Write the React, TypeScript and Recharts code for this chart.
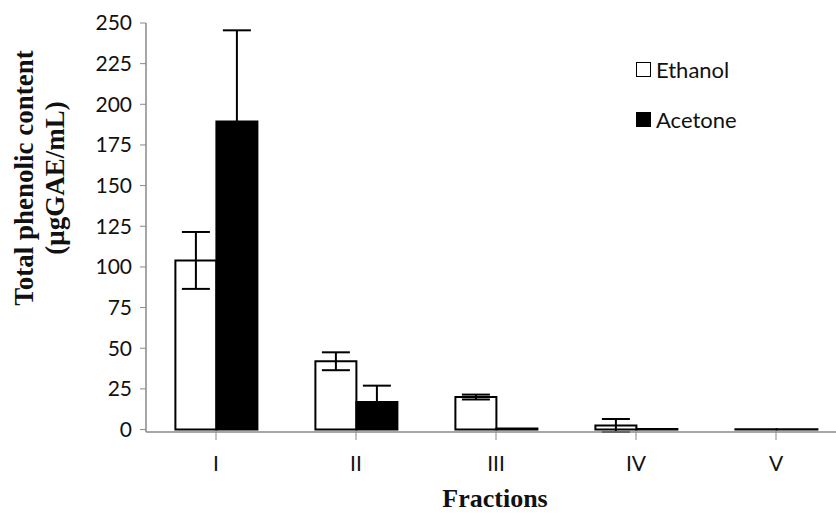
import { Bar, BarChart, ErrorBar, XAxis, YAxis } from 'recharts'

const fractions = ['I', 'II', 'III', 'IV', 'V']
const ethanol = [104, 42, 20, 2.5, 0.2]
const ethanolErr = [17.5, 5.5, 1.5, 4, 0]
const acetone = [189.5, 17, 0.6, 0.3, 0.2]
const acetoneErr = [56, 10, 0, 0, 0]
const yTicks = [0, 25, 50, 75, 100, 125, 150, 175, 200, 225, 250]

const data = fractions.map((f, i) => ({
  fraction: f,
  ethanol: ethanol[i],
  ethanolErr: ethanolErr[i],
  acetone: acetone[i],
  acetoneErr: acetoneErr[i],
}))

const sans = 'Lato, "Open Sans", sans-serif'
const serif = '"Liberation Serif", "Times New Roman", serif'
const tickFont = { fontFamily: sans, fontSize: 21, fill: '#111' }

function YLabel() {
  return (
    <text
      transform="translate(33, 178) rotate(-90)"
      textAnchor="middle"
      fontFamily={serif}
      fontWeight="bold"
      fontSize={27}
      fill="#111"
    >
      <tspan x={0} dy={0}>Total phenolic content</tspan>
      <tspan x={0} dy={31}>(μgGAE/mL)</tspan>
    </text>
  )
}

function LegendBox() {
  const items = [
    { name: 'Ethanol', fill: '#fff' },
    { name: 'Acetone', fill: '#000' },
  ]
  return (
    <div
      style={{
        position: 'absolute',
        left: 636,
        top: 55,
        fontFamily: sans,
        fontSize: 22,
        color: '#111',
      }}
    >
      {items.map((it) => (
        <div key={it.name} style={{ display: 'flex', alignItems: 'center', height: 28, marginBottom: 22 }}>
          <span
            style={{
              display: 'inline-block',
              width: 13,
              height: 13,
              border: '1.5px solid #000',
              background: it.fill,
              marginRight: 5,
            }}
          />
          {it.name}
        </div>
      ))}
    </div>
  )
}

export default function App() {
  return (
    <div style={{ position: 'absolute', left: 0, top: 0, width: 836, height: 515, overflow: 'hidden', background: '#fff' }}>
      <BarChart
        width={850}
        height={515}
        data={data}
        margin={{ top: 23, right: 4, left: 86, bottom: 43 }}
        barCategoryGap="21%"
        barGap={0}
      >
        <XAxis
          dataKey="fraction"
          tick={tickFont}
          tickLine={{ stroke: '#888' }}
          tickSize={8}
          axisLine={{ stroke: '#888', strokeWidth: 1.5 }}
          height={40}
          interval={0}
          tickMargin={16}
        />
        <YAxis
          domain={[0, 250]}
          ticks={yTicks}
          tick={tickFont}
          tickLine={{ stroke: '#888' }}
          tickSize={6}
          axisLine={{ stroke: '#888', strokeWidth: 1.5 }}
          width={60}
          tickMargin={8}
          label={<YLabel />}
        />
        <Bar dataKey="ethanol" name="Ethanol" fill="#fff" stroke="#000" strokeWidth={2} isAnimationActive={false}>
          <ErrorBar dataKey="ethanolErr" width={14} stroke="#000" strokeWidth={2} />
        </Bar>
        <Bar dataKey="acetone" name="Acetone" fill="#000" stroke="#000" strokeWidth={2} isAnimationActive={false}>
          <ErrorBar dataKey="acetoneErr" width={14} stroke="#000" strokeWidth={2} />
        </Bar>
        <text x={495} y={507} textAnchor="middle" fontFamily={serif} fontWeight="bold" fontSize={26} fill="#111">
          Fractions
        </text>
      </BarChart>
      <LegendBox />
    </div>
  )
}
